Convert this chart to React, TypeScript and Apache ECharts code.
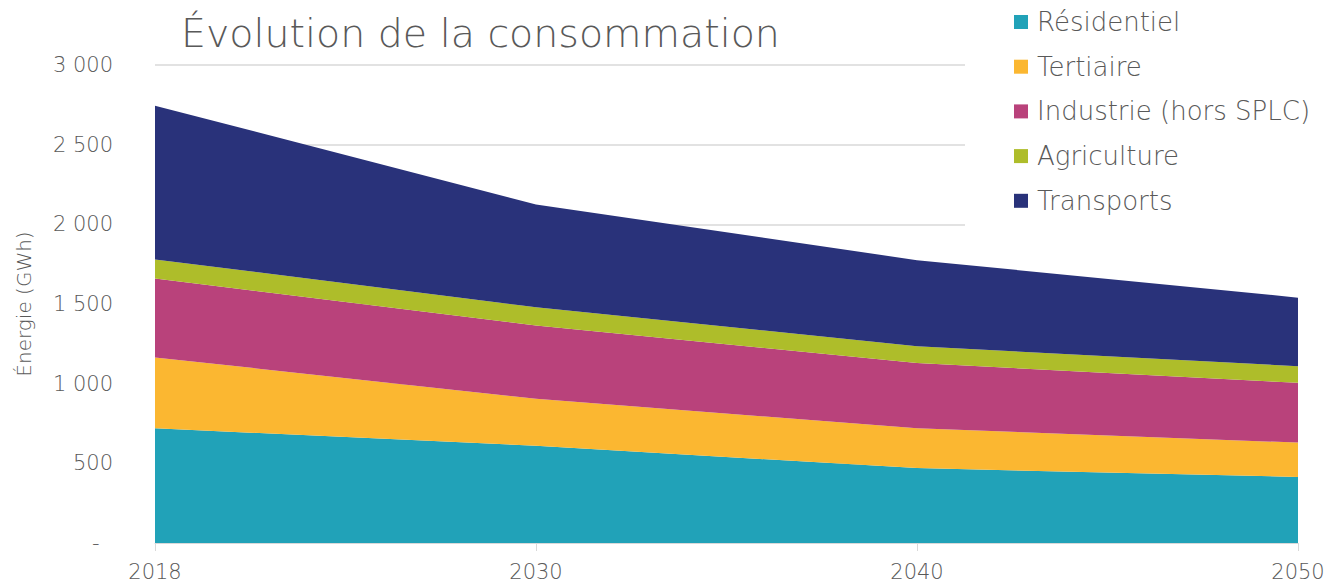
import React, { useEffect, useRef } from "react";
import * as echarts from "echarts";

const years = ["2018", "2030", "2040", "2050"];
const residentiel = [720, 610, 470, 415];
const tertiaire = [445, 295, 250, 215];
const industrie = [495, 460, 410, 375];
const agriculture = [120, 115, 105, 105];
const transports = [965, 645, 540, 430];

const seriesNames = ["Résidentiel", "Tertiaire", "Industrie (hors SPLC)", "Agriculture", "Transports"];
const seriesColors = ["#21a2b8", "#fbb731", "#b9427b", "#aebd2a", "#29327a"];
const seriesData = [residentiel, tertiaire, industrie, agriculture, transports];

const FONT = "'DejaVu Sans', sans-serif";
const GREY = "#595959";

function fmt(v: number): string {
  if (v === 0) return "-\u00a0\u00a0";
  const s = String(Math.round(v));
  return s.replace(/\B(?=(\d{3})+(?!\d))/g, " ");
}

export default function App() {
  const ref = useRef<HTMLDivElement>(null);
  useEffect(() => {
    if (!ref.current) return;
    const chart = echarts.init(ref.current, undefined, { renderer: "svg" });
    chart.setOption({
      animation: false,
      textStyle: { fontFamily: FONT },
      title: {
        text: "Évolution de la consommation",
        left: 176,
        top: 8,
        textStyle: { fontFamily: FONT, fontSize: 39.5, fontWeight: 200, color: GREY },
      },
      legend: {
        orient: "vertical",
        left: 965,
        top: -3,
        padding: [10, 60, 16, 49],
        backgroundColor: "#ffffff",
        itemWidth: 14,
        itemHeight: 14,
        itemGap: 14.7,
        icon: "rect",
        data: seriesNames,
        textStyle: { fontFamily: FONT, fontSize: 26, fontWeight: 200, color: GREY, lineHeight: 30, padding: [0, 0, 0, 4] },
      },
      grid: { left: 155, right: 30, top: 65, bottom: 41, containLabel: false },
      xAxis: {
        type: "category",
        data: years,
        boundaryGap: false,
        axisLine: { lineStyle: { color: "#d9d9d9", width: 1 } },
        axisTick: { show: true, length: 8, lineStyle: { color: "#d9d9d9" } },
        axisLabel: { fontFamily: FONT, fontSize: 21, fontWeight: 200, color: GREY, margin: 18 },
      },
      yAxis: {
        type: "value",
        min: 0,
        max: 3000,
        interval: 500,
        name: "Énergie (GWh)",
        nameLocation: "middle",
        nameGap: 121,
        nameTextStyle: { fontFamily: FONT, fontSize: 20, fontWeight: 200, color: GREY },
        axisLine: { show: false },
        axisTick: { show: false },
        splitLine: { lineStyle: { color: "#d9d9d9", width: 1.5 } },
        axisLabel: {
          fontFamily: FONT,
          fontSize: 21,
          fontWeight: 200,
          color: GREY,
          margin: 42,
          formatter: (v: number) => fmt(v),
        },
      },
      series: seriesNames.map((name, i) => ({
        name,
        type: "line",
        stack: "total",
        data: seriesData[i],
        symbol: "none",
        lineStyle: { width: 0 },
        itemStyle: { color: seriesColors[i] },
        areaStyle: { color: seriesColors[i], opacity: 1 },
      })),
    });
    return () => chart.dispose();
  }, []);
  return (
    <div
      ref={ref}
      style={{ position: "fixed", left: 0, top: 0, width: 1328, height: 584, background: "#ffffff" }}
    />
  );
}
